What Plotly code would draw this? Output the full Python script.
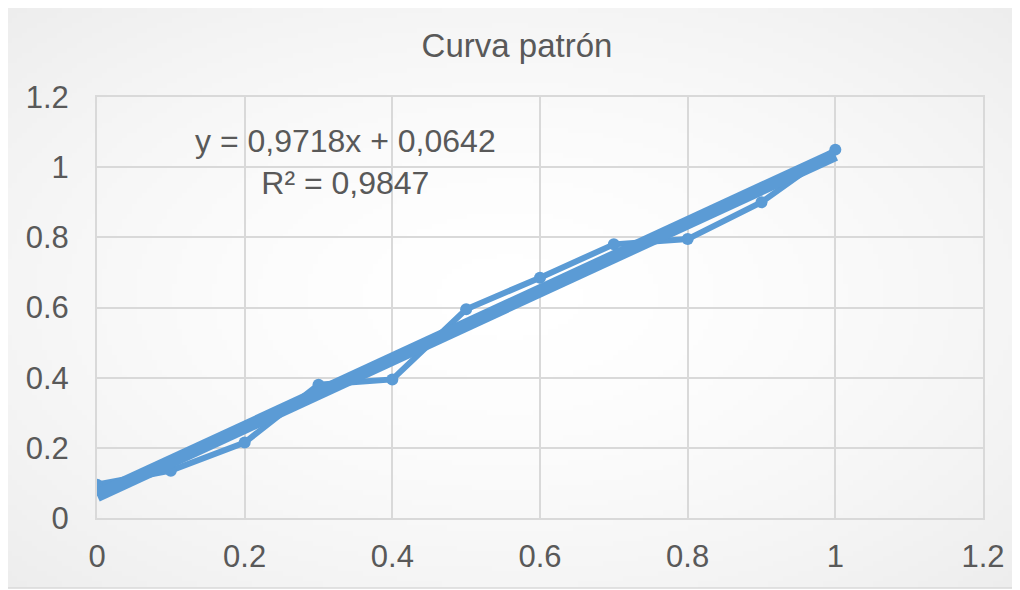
import base64
import struct
import zlib

import plotly.graph_objects as go

# ---- data ----
x_vals = [0, 0.1, 0.2, 0.3, 0.4, 0.5, 0.6, 0.7, 0.8, 0.9, 1.0]
y_vals = [0.095, 0.135, 0.215, 0.38, 0.395, 0.595, 0.685, 0.78, 0.795, 0.90, 1.05]
trend_slope = 0.9718
trend_intercept = 0.0642
r_squared = 0.9847
trend_x = [0, 1.0]
title_text = "Curva patrón"
tick_vals = [0, 0.2, 0.4, 0.6, 0.8, 1, 1.2]
tick_text = ["0", "0.2", "0.4", "0.6", "0.8", "1", "1.2"]

trend_y = [trend_slope * xv + trend_intercept for xv in trend_x]

BLUE = "#5b9bd5"
GRID = "#d9d9d9"
TEXT = "#595959"
FONT = "Liberation Sans, Arial, sans-serif"

# page offset (default body margin of the html page)
OFF = 8
W, H = 1020 - OFF, 590 - OFF
# plot area in page pixels: x 97..983, y 97..518
ML, MT = 97 - OFF, 97 - OFF
PW, PH = 886, 421
MR = W - ML - PW
MB = H - MT - PH


def px2paper_x(px):
    return (px - OFF - ML) / PW


def px2paper_y(py):
    return (MT + PH - (py - OFF)) / PH


# radial gradient background as a small PNG
def gradient_png(w, h):
    rows = []
    cx, cy = (w - 1) / 2, (h - 1) / 2
    for j in range(h):
        row = bytearray([0])
        for i in range(w):
            d = (((i - cx) / cx) ** 2 + ((j - cy) / cy) ** 2) ** 0.5 / 2 ** 0.5
            v = int(round(255 - 18 * d ** 1.6))
            row.append(max(0, min(255, v)))
        rows.append(bytes(row))
    raw = b"".join(rows)

    def chunk(tag, data):
        c = struct.pack(">I", len(data)) + tag + data
        return c + struct.pack(">I", zlib.crc32(tag + data) & 0xFFFFFFFF)

    png = b"\x89PNG\r\n\x1a\n"
    png += chunk(b"IHDR", struct.pack(">IIBBBBB", w, h, 8, 0, 0, 0, 0))
    png += chunk(b"IDAT", zlib.compress(raw, 9))
    png += chunk(b"IEND", b"")
    return "data:image/png;base64," + base64.b64encode(png).decode()


bg_src = gradient_png(202, 116)

fig = go.Figure()

fig.add_trace(go.Scatter(
    x=x_vals, y=y_vals, mode="lines+markers",
    line=dict(color=BLUE, width=6),
    marker=dict(color=BLUE, size=12),
    showlegend=False, hoverinfo="x+y",
))

fig.add_trace(go.Scatter(
    x=trend_x, y=trend_y, mode="lines",
    line=dict(color=BLUE, width=13),
    showlegend=False, hoverinfo="skip",
))

eq_text = (
    f"y = {trend_slope:.4f}x + {trend_intercept:.4f}".replace(".", ",")
    + "<br>"
    + f"R² = {r_squared:.4f}".replace(".", ",")
)

bx0, by0, bx1, by1 = 5, 5, 1015, 588

fig.update_layout(
    width=W, height=H,
    margin=dict(l=ML, r=MR, t=MT, b=MB, pad=0, autoexpand=False),
    paper_bgcolor="white",
    plot_bgcolor="rgba(0,0,0,0)",
    font=dict(family=FONT, color=TEXT, size=31),
    title=dict(
        text=title_text, x=px2paper_x(517) * PW / W + ML / W, xanchor="center",
        y=1 - (45 - OFF) / H, yanchor="middle",
        font=dict(family=FONT, color=TEXT, size=33),
    ),
    xaxis=dict(
        range=[0, 1.2], tickvals=tick_vals, ticktext=tick_text,
        showgrid=True, gridcolor=GRID, gridwidth=2,
        showline=True, linecolor=GRID, linewidth=2, mirror=True,
        zeroline=False, ticks="", ticklabelstandoff=10, automargin=False,
        tickfont=dict(family=FONT, color=TEXT, size=31),
        fixedrange=True,
    ),
    yaxis=dict(
        range=[0, 1.2], tickvals=tick_vals, ticktext=tick_text,
        showgrid=True, gridcolor=GRID, gridwidth=2,
        showline=True, linecolor=GRID, linewidth=2, mirror=True,
        zeroline=False, ticks="", ticklabelstandoff=20, automargin=False,
        tickfont=dict(family=FONT, color=TEXT, size=31),
        fixedrange=True,
    ),
    images=[dict(
        source=bg_src, xref="paper", yref="paper",
        x=px2paper_x(bx0), y=px2paper_y(by0),
        sizex=(bx1 - bx0) / PW, sizey=(by1 - by0) / PH,
        xanchor="left", yanchor="top", sizing="stretch", layer="below",
    )],
    shapes=[dict(
        type="rect", xref="paper", yref="paper",
        x0=px2paper_x(bx0), x1=px2paper_x(bx1),
        y0=px2paper_y(by1), y1=px2paper_y(by0),
        line=dict(color=GRID, width=1.5), fillcolor="rgba(0,0,0,0)", layer="below",
    )],
    annotations=[dict(
        text=eq_text, xref="paper", yref="paper",
        x=px2paper_x(345), y=px2paper_y(162), xanchor="center", yanchor="middle",
        showarrow=False, align="center",
        font=dict(family=FONT, color=TEXT, size=32),
    )],
)

fig.write_html("out.html")
